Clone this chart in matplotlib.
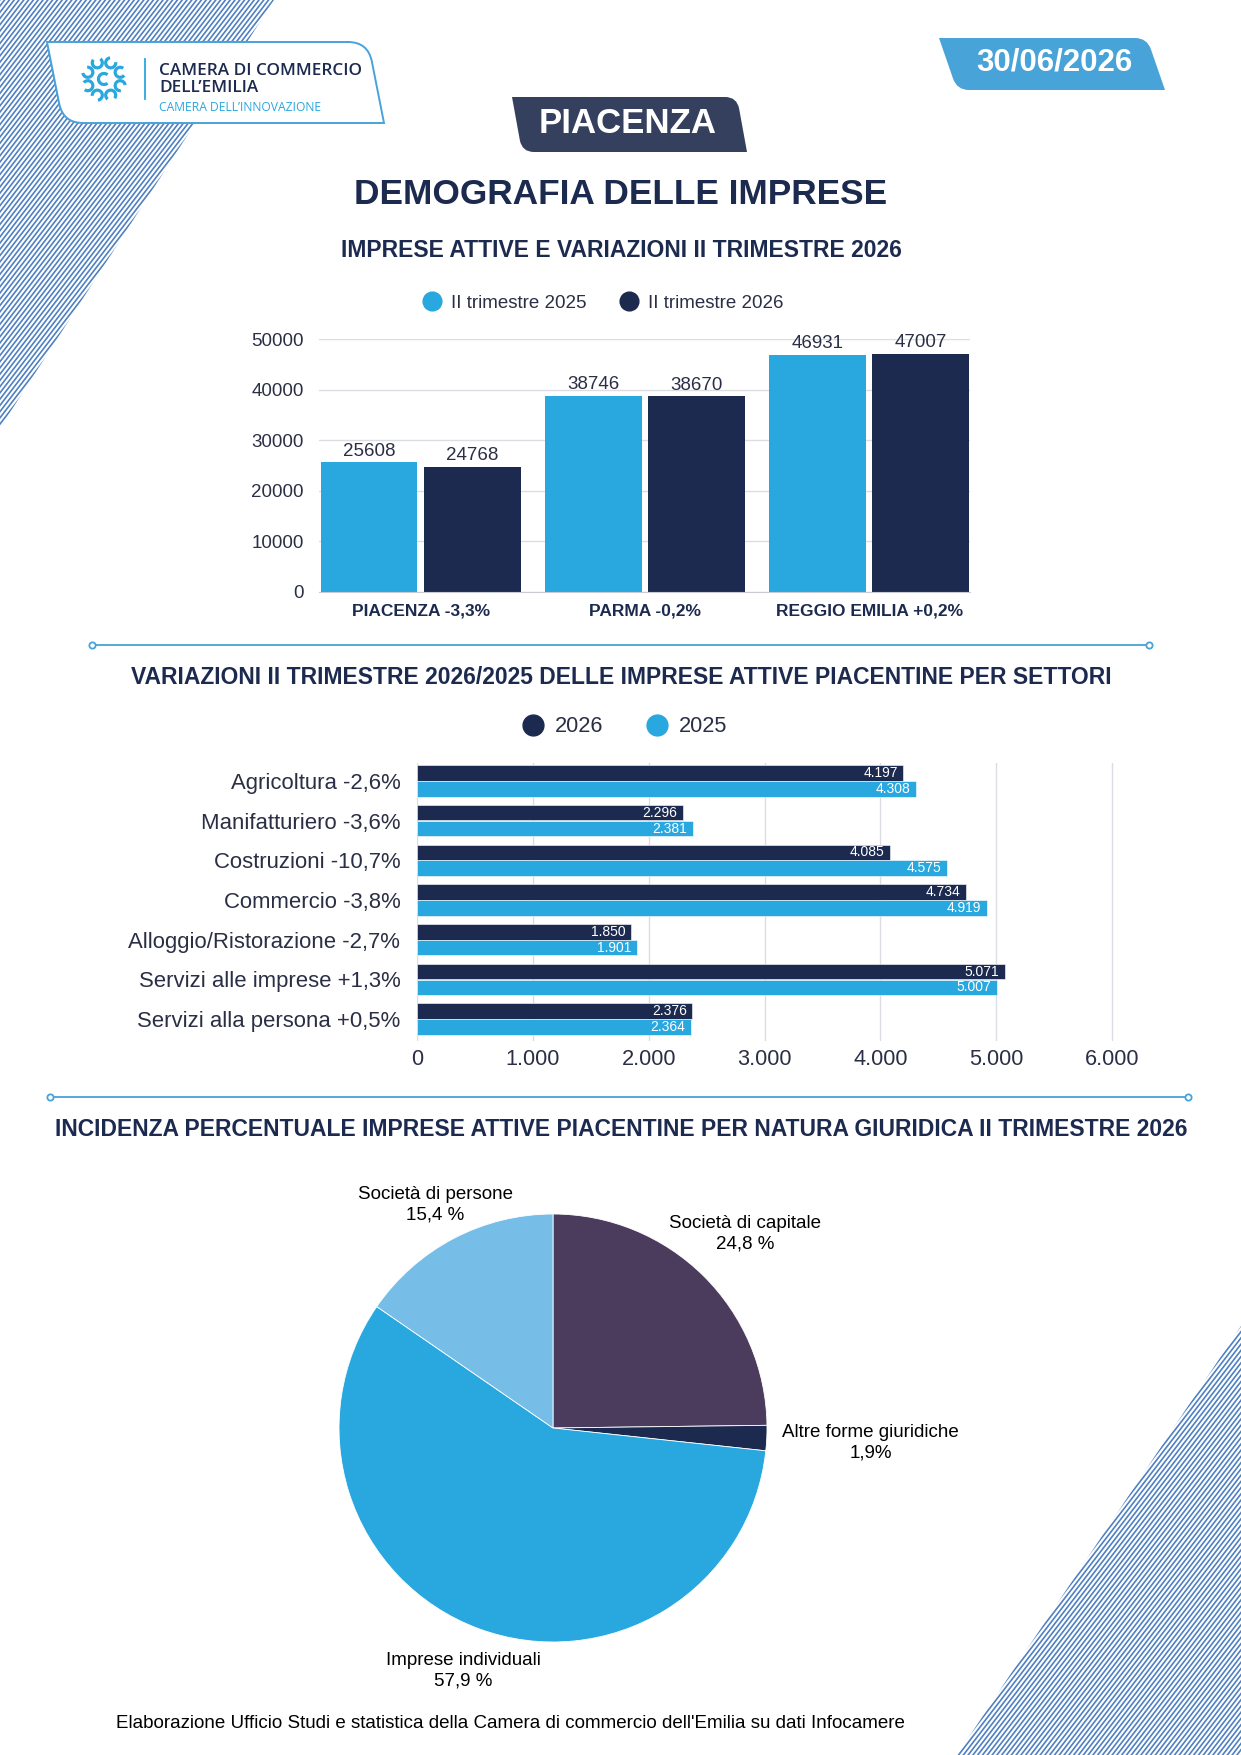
import numpy as np
import matplotlib
matplotlib.use('Agg')
import matplotlib.pyplot as plt
from matplotlib.path import Path
from matplotlib.patches import PathPatch, Arc, Polygon
from matplotlib.lines import Line2D
from matplotlib.collections import LineCollection

# ---------------- data ----------------
prov_labels = ['PIACENZA -3,3%', 'PARMA -0,2%', 'REGGIO EMILIA +0,2%']
imprese_2025 = [25608, 38746, 46931]
imprese_2026 = [24768, 38670, 47007]
legend1_labels = ['II trimestre 2025', 'II trimestre 2026']
y1_ticks = [0, 10000, 20000, 30000, 40000, 50000]

settori = ['Agricoltura -2,6%', 'Manifatturiero -3,6%', 'Costruzioni -10,7%',
           'Commercio -3,8%', 'Alloggio/Ristorazione -2,7%',
           'Servizi alle imprese +1,3%', 'Servizi alla persona +0,5%']
settori_2026 = [4197, 2296, 4085, 4734, 1850, 5071, 2376]
settori_2025 = [4308, 2381, 4575, 4919, 1901, 5007, 2364]
legend2_labels = ['2026', '2025']
x2_ticks = [0, 1000, 2000, 3000, 4000, 5000, 6000]
x2_ticklabels = ['0', '1.000', '2.000', '3.000', '4.000', '5.000', '6.000']

pie_labels = ['Società di capitale', 'Altre forme giuridiche',
              'Imprese individuali', 'Società di persone']
pie_values = [24.8, 1.9, 57.9, 15.4]
pie_pct_text = ['24,8 %', '1,9%', '57,9 %', '15,4 %']

# ---------------- style ----------------
W, H = 1241, 1755
plt.rcParams['font.family'] = ['Liberation Sans', 'DejaVu Sans']
NAVY = '#1c2a4f'
LIGHT = '#29a7df'
DATEBLUE = '#48a3d9'
SLATE = '#353f5e'
STRIPE = '#4f80c2'
GRID = '#dcdde3'
TXT = '#2b2f45'
pie_colors = ['#4b3c5e', '#1c2a4f', '#29a8df', '#76bee8']
pie_label_dist = [1.275, 1.487, 1.21, 1.18]

fig = plt.figure(figsize=(W / 100, H / 100), dpi=100)
bg = fig.add_axes([0, 0, 1, 1], zorder=0)
bg.set_xlim(0, W)
bg.set_ylim(H, 0)
bg.axis('off')


def stripes(tri, spacing=4.8, slope=1.3):
    poly = Polygon(tri, closed=True, transform=bg.transData, facecolor='none', edgecolor='none')
    bg.add_patch(poly)
    segs = []
    for b in np.arange(-200, W * slope + H + 400, spacing * slope):
        segs.append([(-50, b + 50 * slope), (W + 50, b - (W + 50) * slope)])
    lc = LineCollection(segs, colors=STRIPE, linewidths=1.2)
    bg.add_collection(lc)
    lc.set_clip_path(poly)


stripes([(0, 0), (274, 0), (0, 428)])
stripes([(W, 1326), (W, H), (957, H)])


def slanted_box(x0, y0, x1, y1, s, r, fc, ec='none', lw=0.0):
    h = y1 - y0
    L = np.hypot(s, h)
    d = np.array([s, h]) / L
    TL = np.array([x0, y0]); TR = np.array([x1, y0])
    BR = np.array([x1 + s, y1]); BL = np.array([x0 + s, y1])
    verts = [TL, (x1 - r, y0), TR, TR + r * d, BR, (x0 + s + r, y1), BL, BL - r * d, TL, TL]
    codes = [Path.MOVETO, Path.LINETO, Path.CURVE3, Path.CURVE3, Path.LINETO,
             Path.LINETO, Path.CURVE3, Path.CURVE3, Path.LINETO, Path.CLOSEPOLY]
    bg.add_patch(PathPatch(Path(verts, codes), facecolor=fc, edgecolor=ec, lw=lw, zorder=3))


# logo box
slanted_box(47, 42, 368, 123, 16, 20, 'white', ec=DATEBLUE, lw=1.4)
cx, cy = 104, 79
for i in range(8):
    a = np.deg2rad(i * 45 + 22.5)
    px, py = cx + 17.5 * np.cos(a), cy + 17.5 * np.sin(a)
    bg.add_patch(Arc((px, py), 10, 10, theta1=np.rad2deg(a) + 60, theta2=np.rad2deg(a) + 330,
                     lw=2.3, color=LIGHT, zorder=4))
bg.add_patch(Arc((cx, cy), 11, 11, theta1=50, theta2=310, lw=2.3, color=LIGHT, zorder=4))
bg.plot([145, 145], [59, 99], color=LIGHT, lw=1.3, zorder=4)
logo_font = ['Open Sans', 'DejaVu Sans']
bg.text(159, 71, 'CAMERA DI COMMERCIO', fontsize=12.3, family=logo_font, fontweight='semibold',
        color=NAVY, va='center', ha='left', zorder=5)
bg.text(159, 88, "DELL’EMILIA", fontsize=12.3, family=logo_font, fontweight='semibold',
        color=NAVY, va='center', ha='left', zorder=5)
bg.text(159, 107, 'CAMERA DELL’INNOVAZIONE', fontsize=8.7, family=logo_font,
        color=LIGHT, va='center', ha='left', zorder=5)

# date box
slanted_box(939, 38, 1147, 90, 18, 12, DATEBLUE)
bg.text(1054, 62, '30/06/2026', fontsize=22.5, fontweight='bold', color='white',
        ha='center', va='center', zorder=5)

# city box
slanted_box(512, 97, 737, 152, 10, 12, SLATE)
bg.text(628, 123, 'PIACENZA', fontsize=25, fontweight='bold', color='white',
        ha='center', va='center', zorder=5)

# titles
bg.text(621, 194, 'DEMOGRAFIA DELLE IMPRESE', fontsize=25.4, fontweight='bold',
        color=NAVY, ha='center', va='center')
bg.text(621, 250, 'IMPRESE ATTIVE E VARIAZIONI II TRIMESTRE 2026', fontsize=16.5,
        fontweight='bold', color=NAVY, ha='center', va='center')
bg.text(621, 678, 'VARIAZIONI II TRIMESTRE 2026/2025 DELLE IMPRESE ATTIVE PIACENTINE PER SETTORI',
        fontsize=16.5, fontweight='bold', color=NAVY, ha='center', va='center')
bg.text(621, 1130, 'INCIDENZA PERCENTUALE IMPRESE ATTIVE PIACENTINE PER NATURA GIURIDICA II TRIMESTRE 2026',
        fontsize=16.5, fontweight='bold', color=NAVY, ha='center', va='center')
bg.text(510, 1724, "Elaborazione Ufficio Studi e statistica della Camera di commercio dell'Emilia su dati Infocamere",
        fontsize=13.5, color='black', ha='center', va='center')

# separators
for (xa, xb, yy) in [(92, 1149, 645), (50, 1188, 1097)]:
    bg.plot([xa, xb], [yy, yy], color=DATEBLUE, lw=1.3)
    bg.plot([xa, xb], [yy, yy], 'o', ms=4.5, mfc='white', mec=DATEBLUE, mew=1.3, ls='none')

# ---------------- chart 1 ----------------
ax1 = fig.add_axes([319 / W, 1 - 592 / H, (970 - 319) / W, (592 - 339) / H],
                   facecolor='none', zorder=2)
x = np.arange(len(prov_labels))
b1 = ax1.bar(x - 0.23, imprese_2025, 0.43, color=LIGHT, label=legend1_labels[0])
b2 = ax1.bar(x + 0.23, imprese_2026, 0.43, color=NAVY, label=legend1_labels[1])
ax1.set_xlim(-0.454, 2.45)
ax1.set_ylim(0, 50000)
ax1.set_yticks(y1_ticks)
ax1.set_yticklabels([str(t) for t in y1_ticks])
ax1.grid(axis='y', color=GRID, lw=1)
ax1.set_axisbelow(True)
for sp in ['left', 'right', 'top']:
    ax1.spines[sp].set_visible(False)
ax1.spines['bottom'].set_color('#c9cbd3')
ax1.tick_params(axis='y', length=0, labelsize=13.5, labelcolor=TXT, pad=11)
ax1.set_xticks(x)
ax1.set_xticklabels(prov_labels, fontweight='bold', fontsize=12.5, color=NAVY)
ax1.tick_params(axis='x', length=0, pad=8.5)
for bars, vals in [(b1, imprese_2025), (b2, imprese_2026)]:
    ax1.bar_label(bars, labels=[str(v) for v in vals], padding=2, fontsize=13.5, color=TXT)
h1 = [Line2D([], [], marker='o', ls='none', ms=13.5, color=c) for c in (LIGHT, NAVY)]
ax1.legend(h1, legend1_labels, loc='center', bbox_to_anchor=(603 / W, 1 - 303 / H),
           bbox_transform=fig.transFigure, ncol=2, frameon=False, fontsize=13.5,
           handlelength=1.0, handletextpad=0.5, columnspacing=1.8, borderpad=0,
           labelcolor=TXT)

# ---------------- chart 2 ----------------
ax2 = fig.add_axes([417 / W, 1 - 1041 / H, (1118 - 417) / W, (1041 - 763) / H],
                   facecolor='none', zorder=2)
yy = np.arange(len(settori))
bd = ax2.barh(yy - 0.2, settori_2026, 0.39, color=NAVY, edgecolor='white', lw=0.4)
bl = ax2.barh(yy + 0.2, settori_2025, 0.39, color=LIGHT, edgecolor='white', lw=0.4)
ax2.set_xlim(0, 6050)
ax2.set_ylim(6.55, -0.45)
ax2.set_yticks(yy)
ax2.set_yticklabels(settori)
ax2.set_xticks(x2_ticks)
ax2.set_xticklabels(x2_ticklabels)
ax2.grid(axis='x', color=GRID, lw=1)
ax2.set_axisbelow(True)
for sp in ax2.spines.values():
    sp.set_visible(False)
ax2.tick_params(axis='y', length=0, labelsize=15.9, labelcolor=TXT, pad=12)
ax2.tick_params(axis='x', length=0, labelsize=15.7, labelcolor=TXT, pad=6)
for bars, vals in [(bd, settori_2026), (bl, settori_2025)]:
    for rect, v in zip(bars, vals):
        ax2.annotate(f'{v:,}'.replace(',', '.'),
                     (rect.get_width(), rect.get_y() + rect.get_height() / 2),
                     xytext=(-4, 0), textcoords='offset points', ha='right', va='center',
                     color='white', fontsize=10)
h2 = [Line2D([], [], marker='o', ls='none', ms=15, color=c) for c in (NAVY, LIGHT)]
ax2.legend(h2, legend2_labels, loc='center', bbox_to_anchor=(625 / W, 1 - 727 / H),
           bbox_transform=fig.transFigure, ncol=2, frameon=False, fontsize=15.7,
           handlelength=1.0, handletextpad=0.5, columnspacing=1.95, borderpad=0,
           labelcolor=TXT)

# ---------------- pie ----------------
R = 214
axp = fig.add_axes([(553 - R) / W, 1 - (1428 + R) / H, 2 * R / W, 2 * R / H], zorder=2)
wedges, _ = axp.pie(pie_values, colors=pie_colors, startangle=90, counterclock=False,
                    wedgeprops=dict(edgecolor='white', lw=0.6))
axp.set_xlim(-1, 1)
axp.set_ylim(-1, 1)
for w, lab, pct, d in zip(wedges, pie_labels, pie_pct_text, pie_label_dist):
    ang = np.deg2rad((w.theta1 + w.theta2) / 2)
    axp.text(d * np.cos(ang), d * np.sin(ang), f'{lab}\n{pct}', ha='center', va='center',
             fontsize=13.5, color='black', linespacing=1.3)

fig.savefig('out.png', dpi=100)
